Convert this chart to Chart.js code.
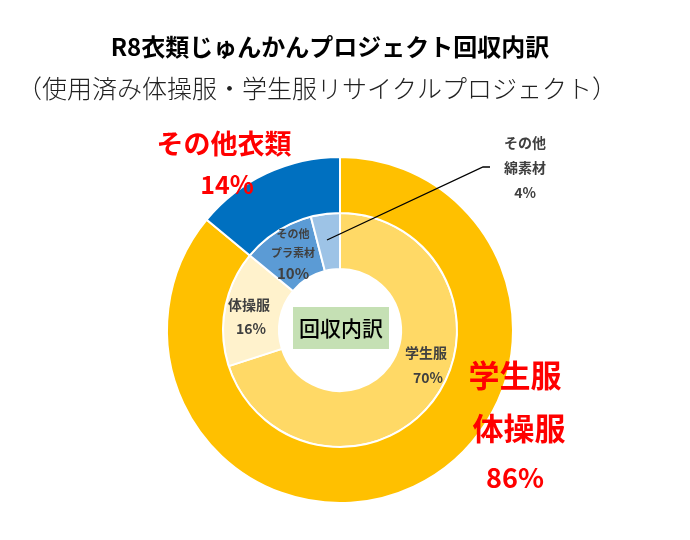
<!DOCTYPE html>
<html>
<head>
<meta charset="utf-8">
<script src="https://cdn.jsdelivr.net/npm/chart.js@4/dist/chart.umd.min.js"></script>
<style>
html,body{margin:0;padding:0;background:#fff;}
#wrap{position:relative;width:690px;height:540px;}
</style>
</head>
<body>
<div id="wrap"><canvas id="c" width="690" height="540"></canvas></div>
<script>
const titleText = 'R8衣類じゅんかんプロジェクト回収内訳';
const subtitleText = '（使用済み体操服・学生服リサイクルプロジェクト）';
const centerText = '回収内訳';

const outerLabels = ['学生服体操服', 'その他衣類'];
const outerValues = [86, 14];
const outerColors = ['#FFC000', '#0070C0'];

const innerLabels = ['学生服', '体操服', 'その他プラ素材', 'その他綿素材'];
const innerValues = [70, 16, 10, 4];
const innerColors = ['#FFD966', '#FFF2CC', '#5B9BD5', '#9DC3E6'];

const FONT = '"Noto Sans CJK JP", "Noto Sans", sans-serif';

function text(ctx, s, x, y, size, weight, color) {
  ctx.font = weight + ' ' + size + 'px ' + FONT;
  ctx.fillStyle = color;
  ctx.textAlign = 'center';
  ctx.textBaseline = 'middle';
  ctx.fillText(s, x, y);
}

const labelPlugin = {
  id: 'labels',
  afterDraw(chart) {
    const ctx = chart.ctx;
    ctx.save();
    // titles
    text(ctx, titleText, 330, 47, 24, 'bold', '#000');
    text(ctx, subtitleText, 317, 88, 25, '300', '#222');

    // center box
    const c = chart.getDatasetMeta(0).data[0];
    const cx = c.x, cy = c.y;
    ctx.fillStyle = '#C5E0B4';
    ctx.fillRect(cx - 47, cy - 23, 96, 42);
    text(ctx, centerText, cx + 1, cy - 2, 21, '500', '#000');

    // outer labels
    const red = '#FF0000';
    text(ctx, 'その他衣類', 224, 144, 27, 'bold', red);
    text(ctx, outerValues[1] + '%', 227, 184, 25, 'bold', red);
    text(ctx, '学生服', 515, 375, 31, 'bold', red);
    text(ctx, '体操服', 519, 428, 31, 'bold', red);
    text(ctx, outerValues[0] + '%', 515, 478, 27, 'bold', red);

    // inner labels
    const g = '#404040';
    text(ctx, innerLabels[0], 426, 353, 14, 'bold', g);
    text(ctx, innerValues[0] + '%', 428, 378, 14, 'bold', g);
    text(ctx, innerLabels[1], 249, 305, 14, 'bold', g);
    text(ctx, innerValues[1] + '%', 251, 329, 14, 'bold', g);
    text(ctx, 'その他', 293, 234, 11, 'bold', g);
    text(ctx, 'プラ素材', 293, 253, 11, 'bold', g);
    text(ctx, innerValues[2] + '%', 293, 273, 15, 'bold', g);
    text(ctx, 'その他', 525, 143, 14, 'bold', g);
    text(ctx, '綿素材', 525, 168, 14, 'bold', g);
    text(ctx, innerValues[3] + '%', 525, 193, 14, 'bold', g);

    // leader line
    ctx.strokeStyle = '#000';
    ctx.lineWidth = 1.3;
    ctx.beginPath();
    ctx.moveTo(327, 240);
    ctx.lineTo(483, 167);
    ctx.lineTo(490, 167);
    ctx.stroke();
    ctx.restore();
  }
};

new Chart(document.getElementById('c'), {
  type: 'doughnut',
  data: {
    labels: innerLabels,
    datasets: [
      { label: 'outer', data: outerValues, backgroundColor: outerColors, borderColor: '#fff', borderWidth: 2 },
      { label: 'inner', data: innerValues, backgroundColor: innerColors, borderColor: '#fff', borderWidth: 2 }
    ]
  },
  options: {
    responsive: false,
    animation: false,
    radius: 173,
    cutout: '35.3%',
    layout: { padding: { left: 0, right: 10, top: 120, bottom: 0 } },
    plugins: { legend: { display: false }, title: { display: false }, tooltip: { enabled: false } }
  },
  plugins: [labelPlugin]
});
</script>
</body>
</html>
